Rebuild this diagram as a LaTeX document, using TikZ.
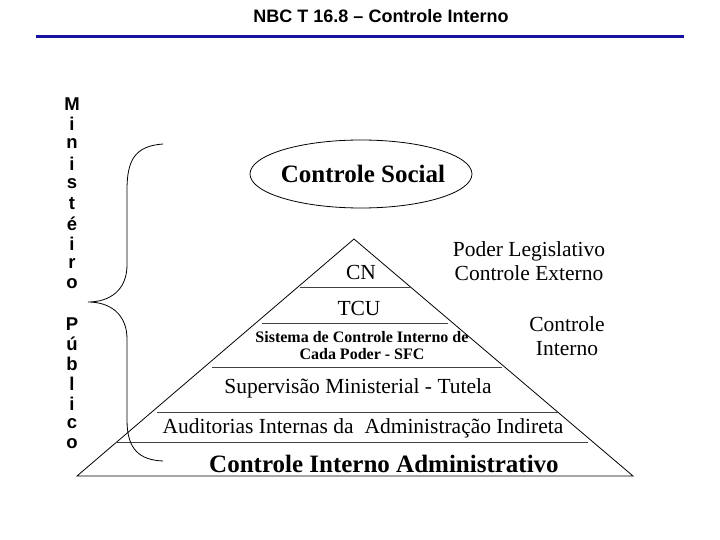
\documentclass[tikz,border=0pt]{standalone}
\usepackage{fontspec}
\setmainfont{Liberation Serif}
\newfontfamily\arialfont{Liberation Sans}
\definecolor{titleblue}{RGB}{20,20,160}
\usetikzlibrary{positioning, shapes.geometric}

\begin{document}
\begin{tikzpicture}[x=1pt, y=-1pt,
  lbl/.style={inner sep=0pt, font=\fontsize{21.5}{24}\selectfont},
  boldlbl/.style={inner sep=0pt, font=\fontsize{25}{28}\selectfont\bfseries},
  smalllbl/.style={inner sep=0pt, align=center, font=\fontsize{16}{17}\selectfont\bfseries},
  vletter/.style={inner sep=0pt, font=\arialfont\fontsize{18.5}{20}\selectfont\bfseries},
  level/.style={draw=black!75, line width=0.8pt},
]
\useasboundingbox (0,0) rectangle (720,540);

% Title and rule
\node[inner sep=0pt, font=\arialfont\fontsize{18}{20}\selectfont\bfseries] (title) at (381,16) {NBC T 16.8 – Controle Interno};
\draw[titleblue, line width=3pt] (36,37) -- (684,37);

% Controle Social
\node[draw, ellipse, line width=0.8pt, minimum width=222pt, minimum height=68pt, inner sep=0pt] (socialbox) at (361,174) {};
\node[boldlbl] (social) at (363,174) {Controle Social};

% Pyramid
\draw[line width=0.8pt] (354,239) -- (77,476) -- (633,476) -- cycle;
\draw[level] (300,287) -- (410,287);
\draw[level] (262,323) -- (448,323);
\draw[level] (212,367) -- (502,367);
\draw[level] (157,412) -- (558,412);
\draw[level] (116,442) -- (588,442);

\node[lbl] (cn) at (361,272) {CN};
\node[lbl] (tcu) at (359,308) {TCU};
\node[smalllbl] (sfc) at (362,346) {Sistema de Controle Interno de\\Cada Poder - SFC};
\node[lbl] (superv) at (358,388) {Supervisão Ministerial - Tutela};
\node[lbl] (audit) at (363,428) {Auditorias Internas da\ \ Administração Indireta};
\node[boldlbl] (ciadm) at (384,464) {Controle Interno Administrativo};

% Side labels
\node[lbl, align=center] (legis) at (529,261) {Poder Legislativo\\Controle Externo};
\node[lbl, align=center] (ctrlint) at (567,336) {Controle\\Interno};

% Ministerio Publico
\foreach \ch [count=\i from 0] in {M,i,n,i,s,t,é,i,r,o}
  \node[vletter] (mp\i) at (72,{104+20*\i}) {\ch};
\foreach \ch [count=\i from 11] in {P,ú,b,l,i,c,o}
  \node[vletter] (mp\i) at (72,{104+20*\i}) {\ch};

% Brace
\draw[line width=0.8pt] (163,144) .. controls (135,146) and (127,160) .. (127,190)
  -- (127,265) .. controls (127,290) and (110,302) .. (88,302)
  .. controls (110,302) and (127,314) .. (127,339)
  -- (127,420) .. controls (127,450) and (140,460) .. (163,461);
\end{tikzpicture}
\end{document}
